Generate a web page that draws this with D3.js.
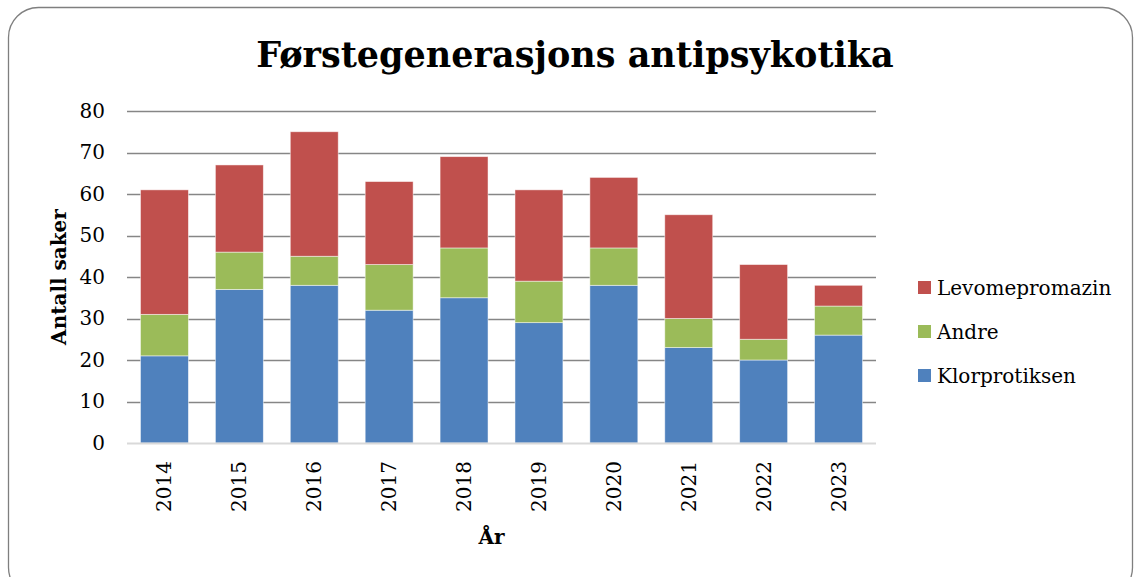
<!DOCTYPE html>
<html>
<head>
<meta charset="utf-8">
<script src="https://cdn.jsdelivr.net/npm/d3@7"></script>
<style>
  body { margin: 0; background: #fff; }
  text { font-family: "DejaVu Serif", "Liberation Serif", serif; }
</style>
</head>
<body>
<div id="chart-area"></div>
<script>
const years = ["2014", "2015", "2016", "2017", "2018", "2019", "2020", "2021", "2022", "2023"]
const klorprotiksen = [21, 37, 38, 32, 35, 29, 38, 23, 20, 26]
const andre = [10, 9, 7, 11, 12, 10, 9, 7, 5, 7]
const levomepromazin = [30, 21, 30, 20, 22, 22, 17, 25, 18, 5]
const seriesNames = ["Klorprotiksen", "Andre", "Levomepromazin"]
const yTicks = [0, 10, 20, 30, 40, 50, 60, 70, 80]

const W = 1135, H = 577
const MARGIN = { LEFT: 127, RIGHT: 259, TOP: 111, BOTTOM: 134 }
const WIDTH = W - MARGIN.LEFT - MARGIN.RIGHT
const HEIGHT = H - MARGIN.TOP - MARGIN.BOTTOM

const svg = d3.select("#chart-area").append("svg")
  .attr("width", W)
  .attr("height", H)

// outer rounded frame
svg.append("rect")
  .attr("x", 8.5).attr("y", 7.5)
  .attr("width", 1124).attr("height", 590)
  .attr("rx", 30).attr("ry", 30)
  .attr("fill", "#fff")
  .attr("stroke", "#7f7f7f")
  .attr("stroke-width", 1.3)

// title
svg.append("text")
  .attr("x", 575)
  .attr("y", 67)
  .attr("text-anchor", "middle")
  .attr("font-size", "35px")
  .attr("font-weight", "bold")
  .text("Førstegenerasjons antipsykotika")

const g = svg.append("g")
  .attr("transform", `translate(${MARGIN.LEFT}, ${MARGIN.TOP})`)

const x = d3.scaleBand()
  .domain(years)
  .range([0, WIDTH])
  .paddingInner(0.36)
  .paddingOuter(0.18)

const y = d3.scaleLinear()
  .domain([0, 80])
  .range([HEIGHT, 0])

const color = d3.scaleOrdinal()
  .domain(seriesNames)
  .range(["#4F81BD", "#9BBB59", "#C0504D"])

// gridlines
g.append("g")
  .selectAll("line")
  .data(yTicks.filter(d => d > 0))
  .enter().append("line")
  .attr("x1", 0).attr("x2", WIDTH)
  .attr("y1", d => Math.round(y(d)) + 0.5)
  .attr("y2", d => Math.round(y(d)) + 0.5)
  .attr("stroke", "#868686")
  .attr("stroke-width", 1.5)

// y axis labels
const yAxisCall = d3.axisLeft(y).tickValues(yTicks).tickSize(0).tickPadding(22)
const yAxisGroup = g.append("g").call(yAxisCall)
yAxisGroup.select(".domain").remove()
yAxisGroup.selectAll("text")
  .attr("font-size", "20px")
  .attr("fill", "#000")
  .style("font-family", "'DejaVu Serif', serif")

// stacked data
const table = years.map((yr, i) => ({
  year: yr,
  Klorprotiksen: klorprotiksen[i],
  Andre: andre[i],
  Levomepromazin: levomepromazin[i]
}))
const stacked = d3.stack().keys(seriesNames)(table)

g.selectAll("g.series")
  .data(stacked)
  .enter().append("g")
  .attr("class", "series")
  .attr("fill", d => color(d.key))
  .selectAll("rect")
  .data(d => d)
  .enter().append("rect")
  .attr("x", d => x(d.data.year))
  .attr("width", x.bandwidth())
  .attr("y", d => y(d[1]))
  .attr("height", d => y(d[0]) - y(d[1]))
  .attr("stroke", "#fff")
  .attr("stroke-opacity", 0.6)
  .attr("stroke-width", 0.8)

// x axis baseline
g.append("line")
  .attr("x1", 0).attr("x2", WIDTH)
  .attr("y1", HEIGHT + 0.5).attr("y2", HEIGHT + 0.5)
  .attr("stroke", "#d9d9d9")
  .attr("stroke-width", 2)

// x labels
const xAxisCall = d3.axisBottom(x).tickSize(0).tickPadding(0)
const xAxisGroup = g.append("g")
  .attr("transform", `translate(0, ${HEIGHT})`)
  .call(xAxisCall)
xAxisGroup.select(".domain").remove()
xAxisGroup.selectAll("text")
  .attr("font-size", "20px")
  .attr("fill", "#000")
  .style("font-family", "'DejaVu Serif', serif")
  .attr("text-anchor", "end")
  .attr("transform", "rotate(-90)")
  .attr("x", -18)
  .attr("y", 0)
  .attr("dy", "0.35em")

// axis titles
g.append("text")
  .attr("x", -(HEIGHT / 2))
  .attr("y", -61)
  .attr("transform", "rotate(-90)")
  .attr("text-anchor", "middle")
  .attr("font-size", "20px")
  .attr("font-weight", "bold")
  .text("Antall saker")

g.append("text")
  .attr("x", WIDTH / 2 - 10)
  .attr("y", HEIGHT + 101)
  .attr("text-anchor", "middle")
  .attr("font-size", "20px")
  .attr("font-weight", "bold")
  .text("År")

// legend
const legendItems = seriesNames.slice().reverse()
const legend = svg.append("g")
  .attr("transform", "translate(918, 288)")
const li = legend.selectAll("g")
  .data(legendItems)
  .enter().append("g")
  .attr("transform", (d, i) => `translate(0, ${i * 44})`)
li.append("rect")
  .attr("x", 0).attr("y", -7)
  .attr("width", 13).attr("height", 13)
  .attr("fill", d => color(d))
li.append("text")
  .attr("x", 19)
  .attr("y", 0)
  .attr("dy", "0.35em")
  .attr("font-size", "20px")
  .text(d => d)
</script>
</body>
</html>
